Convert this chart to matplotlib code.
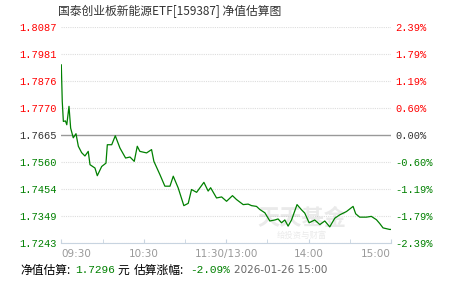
import matplotlib.pyplot as plt
import numpy as np

plt.rcParams['font.family'] = ['Noto Sans CJK SC', 'DejaVu Sans']

# ---- data ----
base = 1.7665
y_ticks = [1.8087, 1.7981, 1.7876, 1.7770, 1.7665, 1.7560, 1.7454, 1.7349, 1.7243]
pct_labels = ['2.39%', '1.79%', '1.19%', '0.60%', '0.00%', '-0.60%', '-1.19%', '-1.79%', '-2.39%']
x_tick_pos = [0, 60, 120, 180, 240]
x_tick_labels = ['09:30', '10:30', '11:30/13:00', '14:00', '15:00']

# minutes since 09:30 (lunch break removed)
minutes = [0, 0.7, 1.5, 3, 4, 5.6, 6.8, 8.7, 10.7, 12.4, 14.8, 17.2, 19.6, 20.9, 24.5,
           26.2, 29.4, 32.5, 33.5, 36.7, 39.3, 42.7, 46.8, 50, 53.1, 55.3, 57.2, 62.1,
           65.7, 67.4, 71.8, 75.4, 79.1, 81.5, 85.1, 89.2, 92.4, 94.8, 98.5, 103.8,
           106.9, 108.7, 113, 116.7, 120.3, 124.6, 127.5, 132.4, 136, 138.5, 142.1,
           144.5, 148.2, 151.8, 155.5, 157.8, 160.3, 162.7, 165.1, 167.6, 171.6, 174.8,
           177.2, 180.4, 184.5, 188.2, 191.8, 195.4, 199.1, 202.7, 207.6, 212.4, 214.3,
           217.2, 222.1, 225.7, 229.4, 231.8, 234.2, 236.6, 239, 240]
nav = [1.7939, 1.7796, 1.7718, 1.7720, 1.7705, 1.7777, 1.7692, 1.7654, 1.7670, 1.7621,
       1.7596, 1.7583, 1.7601, 1.7549, 1.7536, 1.7506, 1.7542, 1.7555, 1.7627, 1.7627,
       1.7662, 1.7614, 1.7575, 1.7579, 1.7562, 1.7621, 1.7601, 1.7595, 1.7608, 1.7562,
       1.7510, 1.7465, 1.7465, 1.7504, 1.7458, 1.7389, 1.7398, 1.7452, 1.7441, 1.7480,
       1.7446, 1.7459, 1.7419, 1.7423, 1.7406, 1.7428, 1.7413, 1.7393, 1.7395, 1.7389,
       1.7386, 1.7374, 1.7361, 1.7329, 1.7333, 1.7337, 1.7322, 1.7333, 1.7309, 1.7333,
       1.7393, 1.7373, 1.7360, 1.7322, 1.7333, 1.7315, 1.7329, 1.7306, 1.7340, 1.7353,
       1.7366, 1.7386, 1.7357, 1.7344, 1.7344, 1.7347, 1.7334, 1.7319, 1.7302, 1.7299,
       1.7296, 1.7296]

RED = '#FF0000'
GREEN = '#008000'
GREY = '#333333'

def lab_color(v):
    if abs(v - base) < 1e-6:
        return GREY
    return RED if v > base else GREEN

W, H = 451, 281
fig = plt.figure(figsize=(W / 100, H / 100), dpi=100)
ax = fig.add_axes([61.3 / W, 1 - 243 / H, (391 - 61.3) / W, 216 / H])

ax.plot(minutes, nav, color=GREEN, lw=0.9)
ax.axhline(base, color='#999999', lw=1.0, zorder=1)
for v in y_ticks:
    if abs(v - base) > 1e-6:
        ax.axhline(v, color='#dddddd', lw=0.8, ls=(0, (1, 1)), zorder=0)

ax.set_xlim(0, 240)
ax.set_ylim(y_ticks[-1], y_ticks[0])
for s in ['top', 'left', 'right']:
    ax.spines[s].set_visible(False)
ax.spines['bottom'].set_color('#c8d4e0')
ax.set_facecolor('none')

ax.set_xticks(np.arange(0, 241, 30), minor=True)
ax.tick_params(axis='x', which='minor', direction='in', length=3, color='#c8d4e0')
ax.set_xticks(x_tick_pos)
ax.set_xticklabels(x_tick_labels, fontsize=7.5, color='#999999', family='DejaVu Sans')
ax.tick_params(axis='x', which='major', direction='in', length=3, color='#c8d4e0', pad=4)
xl = ax.get_xticklabels()
xl[0].set_ha('left')
xl[-1].set_ha('right')

mono = ['Liberation Mono', 'DejaVu Sans Mono']
ax.set_yticks(y_ticks)
ax.set_yticklabels(['%.4f' % v for v in y_ticks], family=mono, fontsize=7.5)
ax.tick_params(axis='y', length=0, pad=3)
for t, v in zip(ax.get_yticklabels(), y_ticks):
    t.set_color(lab_color(v))

ax2 = ax.twinx()
ax2.set_ylim(ax.get_ylim())
ax2.set_yticks(y_ticks)
ax2.set_yticklabels(pct_labels, family=mono, fontsize=7.5)
ax2.tick_params(axis='y', length=0, pad=3)
for t, v in zip(ax2.get_yticklabels(), y_ticks):
    t.set_color(lab_color(v))
for s in ax2.spines.values():
    s.set_visible(False)

# watermark
ax.text(0.73, 0.115, '天天基金', transform=ax.transAxes, fontsize=16, color='#bbbbbb',
        alpha=0.3, ha='center', va='center', fontweight='bold', zorder=0)
ax.text(0.73, 0.035, '给投资与财富', transform=ax.transAxes, fontsize=6, color='#bbbbbb',
        alpha=0.3, ha='center', va='center', zorder=0)

# title
fig.text(58 / W, 1 - 11 / H, '国泰创业板新能源ETF[159387] 净值估算图', fontsize=8.5,
         color='#333333', ha='left', va='center')

# bottom info line
yb = 1 - 270 / H
fig.text(20 / W, yb, '净值估算:', fontsize=8.5, color='black', va='center')
fig.text(75 / W, yb, '1.7296', fontsize=8, color=GREEN, va='center', family=mono)
fig.text(117 / W, yb, '元', fontsize=8.5, color='black', va='center')
fig.text(134 / W, yb, '估算涨幅:', fontsize=8.5, color='black', va='center')
fig.text(190 / W, yb, '-2.09%', fontsize=8, color=GREEN, va='center', family=mono)
fig.text(234 / W, yb, '2026-01-26 15:00', fontsize=7.5, color='#666666', va='center',
         family='DejaVu Sans')

fig.savefig('out.png', dpi=100, facecolor='white')
